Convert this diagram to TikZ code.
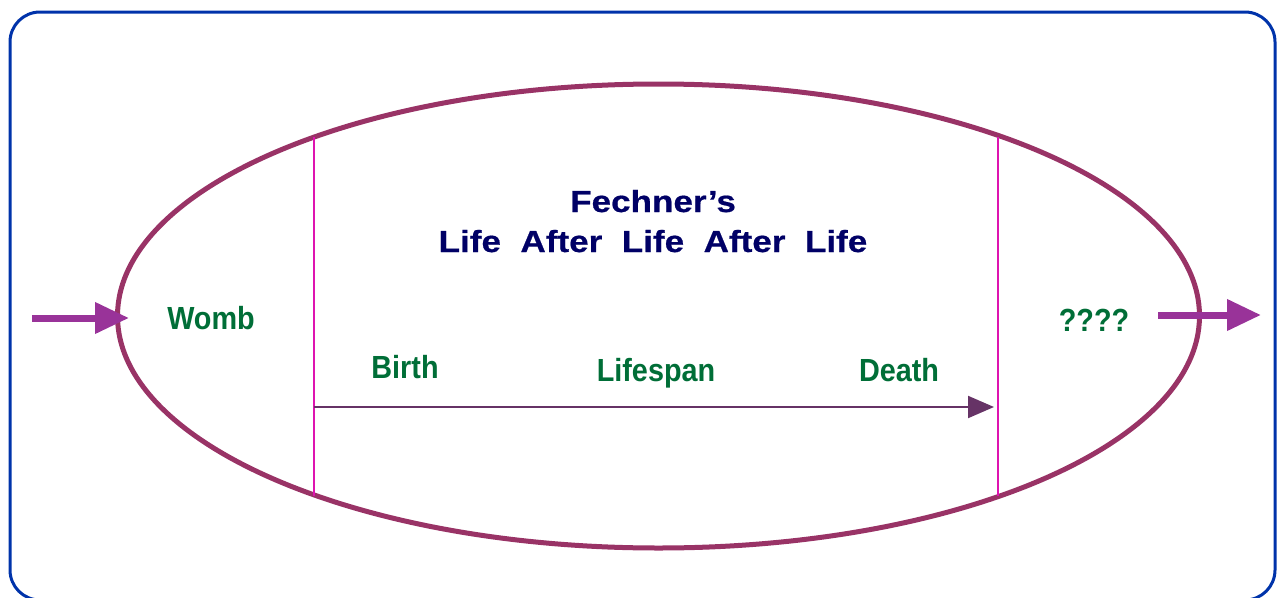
\documentclass[tikz,border=0pt]{standalone}
\usepackage{fontspec}
\usetikzlibrary{arrows.meta,shapes.geometric}
\newfontfamily\titlefont[FakeStretch=1.15,FakeBold=0.6]{Liberation Sans Bold}
\newfontfamily\labelfont[FakeStretch=0.9]{Liberation Sans Bold}
\definecolor{framec}{RGB}{0,51,170}
\definecolor{ellc}{RGB}{153,51,102}
\definecolor{vlinec}{RGB}{222,20,176}
\definecolor{sidearrc}{RGB}{153,51,153}
\definecolor{midarrc}{RGB}{102,51,102}
\definecolor{titlec}{RGB}{0,0,102}
\definecolor{labc}{RGB}{0,110,55}
\tikzset{
  titletext/.style={text=titlec,font=\titlefont\fontsize{30.5}{40}\selectfont,inner sep=0pt,anchor=base},
  labtext/.style={text=labc,font=\labelfont\fontsize{32}{36}\selectfont,inner sep=0pt,anchor=base},
  sidearrow/.style={draw=sidearrc,line width=7pt,-{Triangle[length=34pt,width=30pt]}},
  midarrow/.style={draw=midarrc,line width=2pt,-{Triangle[length=26pt,width=22pt]}},
  vline/.style={draw=vlinec,line width=2pt}
}
\begin{document}
\begin{tikzpicture}[x=1pt,y=-1pt]
\useasboundingbox (0,0) rectangle (1279,597);
\clip (0,0) rectangle (1279,597);
\draw[framec,line width=3pt,rounded corners=30pt] (10,12) rectangle (1275,600);
\node[draw=ellc,line width=5pt,ellipse,minimum width=1082pt,minimum height=464pt,inner sep=0pt] (life) at (658.5,316) {};
% vertical lines
\coordinate (bTop) at (314,136.5);
\coordinate (bBot) at (314,495.5);
\coordinate (dTop) at (998,137);
\coordinate (dBot) at (998,496);
\draw[vline] (bTop) -- (bBot);
\draw[vline] (dTop) -- (dBot);
% lifespan arrow
\coordinate (birthpt) at (314,407);
\coordinate (deathpt) at (994,407);
\draw[midarrow] (birthpt) -- (deathpt);
% side arrows
\coordinate (inS) at (32,318);
\coordinate (inE) at (129,318);
\coordinate (outS) at (1158,315);
\coordinate (outE) at (1261,315);
\draw[sidearrow] (inS) -- (inE);
\draw[sidearrow] (outS) -- (outE);
% texts
\node[titletext] (t1) at (653,212) {Fechner’s};
\node[titletext] (t2) at (653,252) {Life\ \ After\ \ Life\ \ After\ \ Life};
\node[labtext] (womb) at (211,329) {Womb};
\node[labtext] (birth) at (405,378) {Birth};
\node[labtext] (span) at (656,381) {Lifespan};
\node[labtext] (death) at (899,381) {Death};
\node[labtext] (unk) at (1094,331) {????};
\end{tikzpicture}
\end{document}
